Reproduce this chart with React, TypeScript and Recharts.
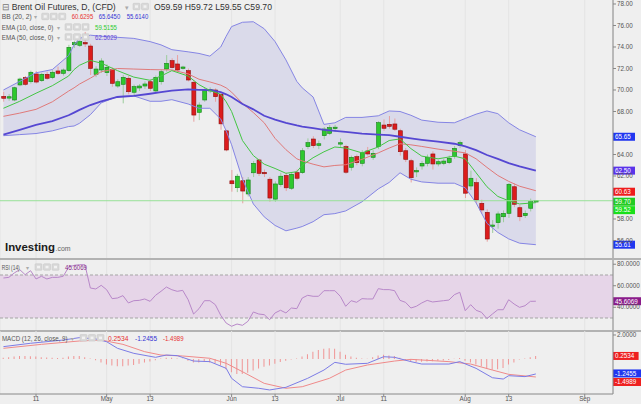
import React from 'react';
import { ComposedChart, Bar, Line, Area, XAxis, YAxis, ReferenceLine, ReferenceArea, CartesianGrid } from 'recharts';

const FONT = "'Liberation Sans', Arial, sans-serif";

const dates = [
  '2019-04-03','2019-04-04','2019-04-05','2019-04-08','2019-04-09','2019-04-10','2019-04-11','2019-04-12','2019-04-15','2019-04-16',
  '2019-04-17','2019-04-18','2019-04-22','2019-04-23','2019-04-24','2019-04-25','2019-04-26','2019-04-29','2019-04-30','2019-05-01',
  '2019-05-02','2019-05-03','2019-05-06','2019-05-07','2019-05-08','2019-05-09','2019-05-10','2019-05-13','2019-05-14','2019-05-15',
  '2019-05-16','2019-05-17','2019-05-20','2019-05-21','2019-05-22','2019-05-23','2019-05-24','2019-05-27','2019-05-28','2019-05-29',
  '2019-05-30','2019-05-31','2019-06-03','2019-06-04','2019-06-05','2019-06-06','2019-06-07','2019-06-10','2019-06-11','2019-06-12',
  '2019-06-13','2019-06-14','2019-06-17','2019-06-18','2019-06-19','2019-06-20','2019-06-21','2019-06-24','2019-06-25','2019-06-26',
  '2019-06-27','2019-06-28','2019-07-01','2019-07-02','2019-07-03','2019-07-04','2019-07-05','2019-07-08','2019-07-09','2019-07-10',
  '2019-07-11','2019-07-12','2019-07-15','2019-07-16','2019-07-17','2019-07-18','2019-07-19','2019-07-22','2019-07-23','2019-07-24',
  '2019-07-25','2019-07-26','2019-07-29','2019-07-30','2019-07-31','2019-08-01','2019-08-02','2019-08-05','2019-08-06','2019-08-07',
  '2019-08-08','2019-08-09','2019-08-12','2019-08-13','2019-08-14','2019-08-15','2019-08-16','2019-08-19','2019-08-20',
];

const opens = [
  69.41,69.30,69.07,70.47,71.15,70.77,71.49,70.87,71.46,71.15,
  71.77,71.55,71.80,74.21,74.16,74.40,74.09,71.46,71.86,71.61,
  71.92,70.37,70.53,71.09,69.79,70.19,70.37,70.77,69.91,70.77,
  71.95,72.73,72.42,72.05,71.80,70.72,67.92,69.07,69.95,70.00,
  69.60,66.20,61.55,60.91,61.56,60.33,62.30,63.49,62.30,61.70,
  59.85,61.20,62.05,60.86,62.31,62.31,64.73,65.44,64.85,65.75,
  65.97,66.45,65.00,64.73,62.81,63.80,63.18,64.33,63.74,64.73,
  66.74,66.81,66.84,66.21,64.35,63.42,62.40,62.93,63.18,64.05,
  63.12,63.18,63.24,63.80,64.82,64.05,61.07,61.38,59.46,58.62,
  57.35,57.66,58.21,58.53,61.00,59.05,58.31,59.00,59.59,
];
const highs = [
  69.84,69.63,70.30,71.15,71.30,71.80,71.75,71.60,71.70,71.85,
  72.17,72.00,74.20,74.55,74.70,75.40,74.30,72.20,72.95,72.40,
  72.10,71.00,71.40,71.30,70.50,70.55,70.80,71.00,71.35,71.90,
  73.25,72.95,73.25,72.25,72.00,70.90,68.85,70.20,70.25,70.15,
  69.80,66.30,62.56,62.20,61.90,61.90,63.40,63.60,62.60,61.90,
  61.50,62.30,62.30,62.30,62.60,64.60,65.50,65.70,65.30,66.55,
  66.75,66.75,65.50,64.90,63.90,64.00,64.40,64.70,64.40,67.10,
  67.27,67.58,67.35,66.40,64.60,63.60,62.80,63.40,64.00,64.30,
  63.50,63.60,63.90,64.80,65.30,64.42,62.50,61.80,59.80,58.90,
  57.90,58.70,58.80,61.35,61.30,59.30,58.80,59.90,59.72,
];
const lows = [
  68.91,69.00,68.95,70.35,70.40,70.60,70.60,70.75,70.95,71.00,
  71.40,71.35,71.70,73.90,74.00,74.00,71.40,71.20,71.60,71.30,
  70.30,70.20,68.76,69.60,69.50,69.90,70.10,69.90,69.70,70.50,
  71.70,72.00,71.70,71.90,70.80,67.05,67.20,68.90,69.70,68.90,
  66.30,64.30,60.54,60.50,59.46,60.10,61.90,62.00,61.90,59.60,
  59.60,61.00,60.60,60.70,61.60,62.20,64.50,64.60,64.50,65.40,
  65.80,66.10,64.70,62.20,62.50,63.00,62.90,63.90,63.50,64.50,
  66.20,66.40,66.20,63.90,63.30,61.40,61.90,62.60,62.90,62.60,
  62.90,63.00,63.10,63.60,64.60,59.95,60.70,59.50,58.50,55.89,
  56.70,57.10,57.70,58.10,59.10,57.80,58.10,58.70,59.55,
];
const closes = [
  69.23,69.32,70.21,71.02,70.53,71.65,70.74,71.46,71.09,71.65,
  71.55,71.86,73.97,74.40,74.50,74.30,72.01,71.95,72.70,72.11,
  70.62,70.77,71.18,69.84,70.31,70.37,70.56,70.16,71.18,71.70,
  72.48,72.08,71.86,72.10,70.93,67.67,68.60,70.00,70.00,69.38,
  66.85,64.42,61.28,61.98,60.60,61.63,63.18,62.25,62.25,59.95,
  61.26,61.98,60.90,62.16,61.79,64.35,65.10,64.82,65.00,66.37,
  66.50,66.50,65.06,62.35,63.74,63.24,64.17,64.05,64.11,66.96,
  66.44,66.62,66.35,64.26,63.55,61.84,62.49,63.18,63.74,63.12,
  63.33,63.39,63.64,64.57,65.10,60.40,61.79,59.77,58.84,56.14,
  57.40,58.47,58.53,61.23,59.37,58.21,58.53,59.61,59.70,
];

// Indicator readings (sampled days)
const bbIdx = [0,3,6,9,12,13,14,16,18,21,24,27,29,31,34,36,38,40,41,42,44,46,48,50,52,54,55,57,59,61,63,66,69,71,73,75,77,80,83,85,87,89,91,93,95,98];
const bbUpper = [70.0,70.8,71.6,71.9,73.2,74.2,74.8,75.1,75.0,74.9,74.8,74.5,74.2,73.75,73.55,73.4,73.15,74.0,75.0,75.9,76.3,76.35,75.7,74.5,72.8,70.8,70.2,69.35,66.8,66.95,67.45,67.45,67.6,68.05,68.0,67.65,67.2,67.0,66.95,67.35,67.75,68.05,67.8,66.95,66.3,65.65];
const bbMiddle = [67.55,67.85,68.2,68.9,69.9,70.2,70.55,71.1,71.7,72.0,71.95,71.9,71.88,71.87,71.5,71.0,70.75,70.45,70.2,69.8,68.75,67.9,66.95,65.5,64.45,63.6,63.4,63.1,62.85,62.98,63.05,63.55,64.15,64.6,65.0,64.9,64.75,64.5,64.3,64.15,63.6,62.8,62.05,61.5,61.05,60.63];
const bbLower = [65.75,65.85,65.95,66.2,66.6,66.65,66.9,67.7,68.8,69.4,69.45,68.95,68.95,69.1,68.7,68.3,68.3,67.3,66.2,64.9,61.7,59.4,58.2,57.4,56.9,57.15,57.3,57.75,58.4,58.5,58.75,59.6,60.8,61.4,62.3,61.7,61.45,61.33,61.33,60.9,59.5,57.6,56.75,56.15,55.75,55.61];
const ema10Vals = [68.3,68.95,69.7,70.4,71.3,71.9,72.3,72.75,72.5,71.8,71.2,70.9,71.3,71.8,71.3,70.5,69.95,69.6,68.9,68.0,65.3,63.9,63.1,62.7,62.25,62.4,63.0,63.7,64.25,64.7,64.6,64.15,64.7,65.3,65.45,64.55,63.85,63.6,63.85,63.6,62.3,61.0,60.1,59.7,59.4,59.52];
const ema50Vals = [65.85,66.3,66.75,67.1,67.65,67.9,68.15,68.6,68.95,69.35,69.45,69.65,69.8,69.95,70.06,70.02,70.0,69.8,69.6,69.35,68.7,68.2,67.6,67.25,66.95,66.7,66.6,66.45,66.3,66.2,66.1,65.95,65.85,65.8,65.65,65.5,65.37,65.2,65.0,64.75,64.4,63.95,63.6,63.2,62.9,62.50];

const rsiVals = [
  67.2,67.8,71.9,75.0,70.3,74.0,66.3,68.8,66.3,67.8,
  67.8,68.8,77.2,79.0,79.6,79.6,57.9,57.0,60.4,56.3,
  48.0,48.6,50.8,44.0,46.1,46.4,47.7,45.5,51.1,54.8,
  58.8,56.3,54.8,55.7,47.0,33.7,38.7,46.1,46.1,42.4,
  32.5,25.3,22.3,24.4,23.2,26.9,35.6,33.7,33.1,28.4,
  34.7,37.2,34.7,39.3,38.7,48.6,51.1,50.2,50.2,55.4,
  55.4,55.4,50.2,40.9,46.1,44.6,48.0,47.7,47.7,57.3,
  56.4,56.4,55.4,46.4,44.6,39.3,40.9,44.0,46.4,44.9,
  45.5,46.1,46.7,51.7,53.9,36.8,42.4,37.2,35.3,29.4,
  33.7,37.7,37.7,47.0,43.0,39.9,41.4,45.5,45.6069,
];

const histVals = [
  0.10,0.15,0.20,0.25,0.25,0.22,0.20,0.15,0.12,0.10,
  0.08,0.10,0.20,0.25,0.25,0.15,0.05,-0.10,-0.30,-0.45,
  -0.55,-0.60,-0.60,-0.55,-0.50,-0.40,-0.30,-0.20,-0.10,0.05,
  0.10,0.10,0.05,0.02,-0.15,-0.30,-0.30,-0.25,-0.30,-0.35,
  -0.55,-0.85,-1.10,-1.25,-1.25,-1.15,-0.95,-0.80,-0.65,-0.55,
  -0.40,-0.25,-0.15,-0.05,0.05,0.20,0.40,0.60,0.75,0.85,
  0.90,0.85,0.60,0.35,0.20,0.10,0.05,0.03,0.15,0.30,
  0.35,0.30,0.25,0.10,-0.10,-0.20,-0.25,-0.22,-0.20,-0.18,
  -0.15,-0.12,-0.08,0.02,0.08,-0.15,-0.30,-0.45,-0.60,-0.80,
  -0.90,-0.85,-0.75,-0.45,-0.30,-0.05,0.05,0.15,0.2534,
];
const macdIdx = [0,5,11,14,17,19,21,24,28,30,32,35,38,41,42,44,47,49,52,56,59,61,63,67,70,72,75,77,82,84,87,90,92,93,96,98];
const macdVals = [1.03,1.31,1.58,1.78,1.67,1.44,0.89,0.47,0.14,0.33,0.28,-0.17,-0.22,-0.78,-1.61,-2.31,-2.44,-2.58,-2.36,-1.61,-0.92,-0.28,-0.44,-0.36,0.19,0.14,-0.22,-0.42,-0.42,-0.22,-0.78,-1.56,-1.67,-1.39,-1.47,-1.2455];
const sigIdx = [0,7,14,18,22,26,29,33,38,41,44,48,52,55,60,63,67,72,75,82,86,90,93,98];
const sigVals = [0.89,1.22,1.5,1.58,1.22,0.61,0.33,0.25,0.06,-0.36,-1.06,-2.03,-2.44,-2.31,-1.61,-0.92,-0.5,-0.17,-0.03,-0.22,-0.42,-0.92,-1.28,-1.4989];

const tickIdx = [6, 19, 27, 42, 50, 62, 70, 85, 93, 107];
const tickLabels = ['11', 'May', '13', 'Jun', '13', 'Jul', '11', 'Aug', '13', 'Sep'];
const priceTicks = [56, 58, 62, 64, 68, 70, 72, 74, 76, 78];
const rsiTicks = [40, 60, 80];
const macdTicks = [2];

const bbLegend = ['60.6295', '65.6450', '55.6140'];
const ema10Legend = '59.5155';
const ema50Legend = '62.5029';

// table built from arrays
const rows: any[] = dates.map((date, i) => ({
  i, date,
  open: opens[i], high: highs[i], low: lows[i], close: closes[i],
  range: [lows[i], highs[i]],
  rsi: rsiVals[i], hist: histVals[i],
  band: null, bbU: null, bbM: null, bbL: null, e10: null, e50: null, macd: null, sig: null,
}));
bbIdx.forEach((ix, k) => {
  rows[ix].bbU = bbUpper[k];
  rows[ix].bbM = bbMiddle[k];
  rows[ix].bbL = bbLower[k];
  rows[ix].band = [bbLower[k], bbUpper[k]];
  rows[ix].e10 = ema10Vals[k];
  rows[ix].e50 = ema50Vals[k];
});
macdIdx.forEach((ix, k) => { rows[ix].macd = macdVals[k]; });
sigIdx.forEach((ix, k) => { rows[ix].sig = sigVals[k]; });

const last = dates.length - 1;
const xDomain: [number, number] = [-0.63, 112.2];

const Candle = (props: any) => {
  const { x, y, width, height, payload } = props;
  if (!payload || height == null || isNaN(height) || isNaN(y)) return null;
  const { open, close, high, low } = payload;
  const span = high - low;
  const k = span > 0 ? height / span : 0;
  const py = (v: number) => y + (high - v) * k;
  const cx = x + width / 2;
  const up = close >= open;
  const top = py(Math.max(open, close));
  let bh = py(Math.min(open, close)) - top;
  let bt = top;
  if (bh < 1.4) { bt = top - (1.4 - bh) / 2; bh = 1.4; }
  const body = up ? '#2ec82e' : '#dc1c1c';
  const edge = up ? '#17801a' : '#8c0e0e';
  const wick = up ? '#9ccc9c' : '#e8a0a0';
  return (
    <g>
      <line x1={cx} x2={cx} y1={y} y2={y + height} stroke={wick} strokeWidth={1} />
      <rect x={cx - 2} y={bt} width={4} height={bh} fill={body} stroke={edge} strokeWidth={0.6} />
    </g>
  );
};

const Badge = (props: any) => {
  const { viewBox, text, color, dy = 0 } = props;
  if (!viewBox) return null;
  const x = viewBox.x + viewBox.width;
  const cy = viewBox.y + dy;
  const w = text.length * 3.6 + 4;
  return (
    <g>
      <rect x={x} y={cy - 4} width={w} height={8} fill={color} />
      <text x={x + 2} y={cy + 2.3} fontSize={6.3} fill="#ffffff" fontFamily={FONT}>{text}</text>
    </g>
  );
};

const Icons = ({ x, y, n }: { x: number; y: number; n: number }) => (
  <g>
    {Array.from({ length: n }).map((_, k) => (
      <g key={k}>
        <rect x={x + k * 8.5} y={y} width={7} height={6.5} rx={0.8} fill="#d9d9d9" stroke="#c4c4c4" strokeWidth={0.5} />
        <rect x={x + k * 8.5 + 2} y={y + 2} width={3} height={2.5} fill="#f2f2f2" />
      </g>
    ))}
  </g>
);

const axisTick = { fontSize: 6.3, fill: '#555', fontFamily: FONT };

export default function App() {
  return (
    <div style={{ position: 'absolute', left: 0, top: 0, width: 641, height: 404, background: '#efefef', overflow: 'hidden', fontFamily: FONT }}>
      {/* main price panel */}
      <div style={{ position: 'absolute', left: 0, top: 0 }}>
        <ComposedChart width={641} height={258} data={rows} margin={{ top: 0, right: 0, bottom: 0, left: 0 }}>
          <CartesianGrid vertical horizontal={false} stroke="#e4e4e4" />
          <XAxis dataKey="i" type="number" domain={xDomain} allowDataOverflow hide ticks={tickIdx} interval={0} />
          <YAxis orientation="right" width={28} type="number" domain={[54.372, 78.372]} allowDataOverflow ticks={priceTicks} interval={0}
            tick={axisTick} tickSize={3} tickMargin={1} tickLine={{ stroke: '#888' }} axisLine={{ stroke: '#888' }}
            tickFormatter={(v: number) => v.toFixed(2)} />
          <Area dataKey="band" fill="#dadaea" fillOpacity={1} stroke="none" connectNulls isAnimationActive={false} dot={false} activeDot={false} />
          <Line dataKey="bbU" stroke="#8585e4" strokeWidth={1} dot={false} activeDot={false} connectNulls isAnimationActive={false} />
          <Line dataKey="bbL" stroke="#8585e4" strokeWidth={1} dot={false} activeDot={false} connectNulls isAnimationActive={false} />
          <Line dataKey="bbM" stroke="#e07a7a" strokeWidth={1} dot={false} activeDot={false} connectNulls isAnimationActive={false} />
          <Line dataKey="e50" stroke="#5547d2" strokeWidth={1.8} dot={false} activeDot={false} connectNulls isAnimationActive={false} />
          <Line dataKey="e10" stroke="#44c644" strokeWidth={1} dot={false} activeDot={false} connectNulls isAnimationActive={false} />
          <ReferenceLine y={closes[last]} stroke="#98e098" strokeWidth={1}
            label={<Badge text={closes[last].toFixed(2)} color="#22cc22" dy={1} />} />
          <Bar dataKey="range" barSize={4} shape={(p: any) => <Candle {...p} />} isAnimationActive={false} />
          <ReferenceLine y={bbUpper[bbUpper.length - 1]} stroke="none" label={<Badge text={bbUpper[bbUpper.length - 1].toFixed(2)} color="#2136f0" />} />
          <ReferenceLine y={ema50Vals[ema50Vals.length - 1]} stroke="none" label={<Badge text={ema50Vals[ema50Vals.length - 1].toFixed(2)} color="#5a33ea" />} />
          <ReferenceLine y={bbMiddle[bbMiddle.length - 1]} stroke="none" label={<Badge text={bbMiddle[bbMiddle.length - 1].toFixed(2)} color="#ee1c1c" dy={1} />} />
          <ReferenceLine y={ema10Vals[ema10Vals.length - 1]} stroke="none" label={<Badge text={ema10Vals[ema10Vals.length - 1].toFixed(2)} color="#19e019" dy={7.5} />} />
          <ReferenceLine y={bbLower[bbLower.length - 1]} stroke="none" label={<Badge text={bbLower[bbLower.length - 1].toFixed(2)} color="#2136f0" />} />
        </ComposedChart>
      </div>

      <div style={{ position: 'absolute', left: 0, top: 258, width: 641, height: 2, background: '#b2b2b2' }} />

      {/* RSI panel */}
      <div style={{ position: 'absolute', left: 0, top: 260 }}>
        <ComposedChart width={641} height={70} data={rows} margin={{ top: 0, right: 0, bottom: 0, left: 0 }}>
          <CartesianGrid vertical horizontal={false} stroke="#e4e4e4" />
          <XAxis dataKey="i" type="number" domain={xDomain} allowDataOverflow hide ticks={tickIdx} interval={0} />
          <YAxis orientation="right" width={28} type="number" domain={[18.84, 83.95]} allowDataOverflow ticks={rsiTicks} interval={0}
            tick={axisTick} tickSize={3} tickMargin={1} tickLine={{ stroke: '#888' }} axisLine={{ stroke: '#888' }}
            tickFormatter={(v: number) => v.toFixed(4)} />
          <ReferenceArea y1={30} y2={70} fill="#e6d5e8" fillOpacity={1} stroke="none" />
          <ReferenceLine y={70} stroke="#a5a5a5" strokeDasharray="3 2" />
          <ReferenceLine y={30} stroke="#a5a5a5" strokeDasharray="3 2" />
          <Line dataKey="rsi" stroke="#b888c9" strokeWidth={1} dot={false} activeDot={false} isAnimationActive={false} />
          <ReferenceLine y={rsiVals[last]} stroke="none" label={<Badge text={rsiVals[last].toFixed(4)} color="#8a1c8a" />} />
        </ComposedChart>
      </div>

      <div style={{ position: 'absolute', left: 0, top: 330, width: 641, height: 1.5, background: '#b2b2b2' }} />

      {/* MACD panel */}
      <div style={{ position: 'absolute', left: 0, top: 331 }}>
        <ComposedChart width={641} height={73} data={rows} margin={{ top: 0, right: 0, bottom: 0, left: 0 }}>
          <CartesianGrid vertical horizontal={false} stroke="#e4e4e4" />
          <XAxis dataKey="i" type="number" domain={xDomain} allowDataOverflow ticks={tickIdx} interval={0} height={10}
            tick={axisTick} tickSize={3} tickMargin={0} tickLine={{ stroke: '#888' }} axisLine={{ stroke: '#888' }}
            tickFormatter={(v: number) => tickLabels[tickIdx.indexOf(v)] ?? ''} />
          <YAxis orientation="right" width={28} type="number" domain={[-2.917, 2.333]} allowDataOverflow ticks={macdTicks} interval={0}
            tick={axisTick} tickSize={3} tickMargin={1} tickLine={{ stroke: '#888' }} axisLine={{ stroke: '#888' }}
            tickFormatter={(v: number) => v.toFixed(4)} />
          <Bar dataKey="hist" barSize={1} fill="#f09494" isAnimationActive={false} />
          <Line dataKey="sig" stroke="#ef8a8a" strokeWidth={1} dot={false} activeDot={false} connectNulls isAnimationActive={false} />
          <Line dataKey="macd" stroke="#7c7ce6" strokeWidth={1} dot={false} activeDot={false} connectNulls isAnimationActive={false} />
          <ReferenceLine y={histVals[last]} stroke="none" label={<Badge text={histVals[last].toFixed(4)} color="#ee2020" />} />
          <ReferenceLine y={macdVals[macdVals.length - 1]} stroke="none" label={<Badge text={macdVals[macdVals.length - 1].toFixed(4)} color="#2136f0" dy={-0.5} />} />
          <ReferenceLine y={sigVals[sigVals.length - 1]} stroke="none" label={<Badge text={sigVals[sigVals.length - 1].toFixed(4)} color="#ee2020" dy={5} />} />
        </ComposedChart>
      </div>

      {/* legends & logo overlay */}
      <svg width={641} height={404} style={{ position: 'absolute', left: 0, top: 0, pointerEvents: 'none' }} fontFamily={FONT}>
        <text x={1.5} y={10} fontSize={9} fill="#777">⊟</text>
        <text x={11.7} y={10} fontSize={9} fill="#333" textLength={104} lengthAdjust="spacingAndGlyphs">Brent Oil Futures, D, (CFD)</text>
        <text x={125} y={10} fontSize={7} fill="#aaa">▾</text>
        <Icons x={133} y={3.3} n={2} />
        <text x={154} y={10} fontSize={9} fill="#333" textLength={118} lengthAdjust="spacingAndGlyphs">
          {`O${opens[last].toFixed(2)} H${highs[last].toFixed(2)} L${lows[last].toFixed(2)} C${closes[last].toFixed(2)}`}
        </text>

        <text x={1.7} y={19} fontSize={6.5} fill="#555" textLength={30} lengthAdjust="spacingAndGlyphs">BB (20, 2)</text>
        <text x={33.5} y={19} fontSize={6} fill="#aaa">▾</text>
        <Icons x={41.7} y={13.2} n={3} />
        <text x={71.7} y={19} fontSize={6.5} fill="#e8312f" textLength={21.5} lengthAdjust="spacingAndGlyphs">{bbLegend[0]}</text>
        <text x={98.7} y={19} fontSize={6.5} fill="#3434d4" textLength={21.5} lengthAdjust="spacingAndGlyphs">{bbLegend[1]}</text>
        <text x={126.7} y={19} fontSize={6.5} fill="#3434d4" textLength={21.5} lengthAdjust="spacingAndGlyphs">{bbLegend[2]}</text>

        <text x={1.7} y={29.5} fontSize={6.5} fill="#555" textLength={51.6} lengthAdjust="spacingAndGlyphs">EMA (10, close, 0)</text>
        <text x={56.5} y={29.5} fontSize={6} fill="#aaa">▾</text>
        <Icons x={65} y={23.7} n={3} />
        <text x={95} y={29.5} fontSize={6.5} fill="#2ecc2e" textLength={22} lengthAdjust="spacingAndGlyphs">{ema10Legend}</text>

        <text x={1.7} y={39.5} fontSize={6.5} fill="#555" textLength={51.6} lengthAdjust="spacingAndGlyphs">EMA (50, close, 0)</text>
        <text x={56.5} y={39.5} fontSize={6} fill="#aaa">▾</text>
        <Icons x={65} y={33.7} n={3} />
        <text x={95} y={39.5} fontSize={6.5} fill="#6446d8" textLength={22} lengthAdjust="spacingAndGlyphs">{ema50Legend}</text>

        <text x={5} y={250.7} fontSize={10.5} fontWeight="bold" fill="#1a1a1a" textLength={50} lengthAdjust="spacingAndGlyphs">Investing</text>
        <text x={55.5} y={250.7} fontSize={8} fill="#666" textLength={15} lengthAdjust="spacingAndGlyphs">.com</text>

        <text x={1.7} y={269.7} fontSize={6.5} fill="#555" textLength={18} lengthAdjust="spacingAndGlyphs">RSI (14)</text>
        <text x={25.5} y={269.7} fontSize={6} fill="#aaa">▾</text>
        <Icons x={35} y={263.8} n={3} />
        <text x={65} y={269.7} fontSize={6.5} fill="#8a2a8a" textLength={22} lengthAdjust="spacingAndGlyphs">{rsiVals[last].toFixed(4)}</text>

        <text x={2} y={340.5} fontSize={6.5} fill="#555" textLength={65.5} lengthAdjust="spacingAndGlyphs">MACD (12, 26, close, 9)</text>
        <text x={70.5} y={340.5} fontSize={6} fill="#aaa">▾</text>
        <Icons x={80} y={334.6} n={3} />
        <text x={108} y={340.5} fontSize={6.5} fill="#e8312f" textLength={20.5} lengthAdjust="spacingAndGlyphs">{histVals[last].toFixed(4)}</text>
        <text x={135} y={340.5} fontSize={6.5} fill="#3434d4" textLength={22} lengthAdjust="spacingAndGlyphs">{macdVals[macdVals.length - 1].toFixed(4)}</text>
        <text x={163} y={340.5} fontSize={6.5} fill="#e8312f" textLength={20.5} lengthAdjust="spacingAndGlyphs">{sigVals[sigVals.length - 1].toFixed(4)}</text>
      </svg>
    </div>
  );
}
